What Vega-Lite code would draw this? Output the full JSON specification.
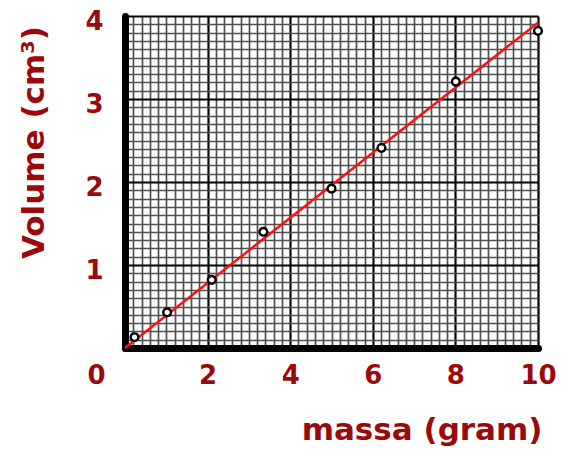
{
  "$schema": "https://vega.github.io/schema/vega-lite/v6.json",
  "width": 413,
  "height": 332,
  "autosize": {"type": "none"},
  "padding": {"left": 125, "top": 16, "right": 45, "bottom": 116},
  "background": "white",
  "config": {"view": {"stroke": null}},
  "datasets": {
    "fit": [
      {"massa": 0, "volume": 0},
      {"massa": 10, "volume": 3.92}
    ],
    "points": [
      {"massa": 0.23, "volume": 0.13},
      {"massa": 1.02, "volume": 0.43},
      {"massa": 2.1, "volume": 0.82},
      {"massa": 3.35, "volume": 1.4},
      {"massa": 5.0, "volume": 1.92},
      {"massa": 6.21, "volume": 2.41},
      {"massa": 8.01, "volume": 3.21},
      {"massa": 10.0, "volume": 3.82}
    ]
  },
  "encoding": {
    "x": {
      "field": "massa",
      "type": "quantitative",
      "scale": {"domain": [0, 10], "nice": false},
      "axis": {
        "title": "massa (gram)",
        "tickCount": 50,
        "grid": true,
        "gridColor": {"condition": {"test": "datum.value % 2 === 0", "value": "#000000"}, "value": "#505050"},
        "gridWidth": {"condition": {"test": "datum.value % 2 === 0", "value": 2.2}, "value": 1.7},
        "ticks": false,
        "domainColor": "#000000",
        "domainWidth": 7,
        "domainCap": "round",
        "labelExpr": "datum.value % 2 === 0 ? '' + datum.value : ''",
        "labelOffset": {"condition": {"test": "datum.value === 0", "value": -29}, "value": 0},
        "labelOverlap": false,
        "labelBound": false,
        "labelFlush": false,
        "labelPadding": 14,
        "labelFont": "DejaVu Sans",
        "labelFontWeight": "bold",
        "labelFontSize": 26,
        "labelColor": "#9a0a0a",
        "titleFont": "DejaVu Sans",
        "titleFontWeight": "bold",
        "titleFontSize": 31,
        "titleColor": "#9a0a0a",
        "titleAlign": "right",
        "titleAnchor": "end",
        "titleBaseline": "middle",
        "titleX": 417,
        "titleY": 82
      }
    },
    "y": {
      "field": "volume",
      "type": "quantitative",
      "scale": {"domain": [0, 4], "nice": false},
      "axis": {
        "title": "Volume (cm³)",
        "tickCount": 40,
        "grid": true,
        "gridColor": {"condition": {"test": "datum.value % 1 === 0", "value": "#000000"}, "value": "#505050"},
        "gridWidth": {"condition": {"test": "datum.value % 1 === 0", "value": 2.2}, "value": 1.7},
        "ticks": false,
        "domainColor": "#000000",
        "domainWidth": 7,
        "domainCap": "round",
        "labelExpr": "datum.value % 1 === 0 && datum.value > 0 ? '' + datum.value : ''",
        "labelOverlap": false,
        "labelBound": false,
        "labelFlush": false,
        "labelPadding": 22,
        "labelOffset": 5,
        "labelFont": "DejaVu Sans",
        "labelFontWeight": "bold",
        "labelFontSize": 26,
        "labelColor": "#9a0a0a",
        "titleFont": "DejaVu Sans",
        "titleFontWeight": "bold",
        "titleFontSize": 31,
        "titleColor": "#9a0a0a",
        "titleAngle": -90,
        "titleAlign": "center",
        "titleBaseline": "middle",
        "titleX": -91,
        "titleY": 126
      }
    }
  },
  "layer": [
    {
      "data": {"name": "fit"},
      "mark": {"type": "line", "color": "#ff1010", "strokeWidth": 2.5}
    },
    {
      "data": {"name": "points"},
      "mark": {"type": "point", "shape": "circle", "filled": true, "fill": "white", "stroke": "black", "strokeWidth": 2.4, "size": 60, "opacity": 1}
    }
  ]
}
